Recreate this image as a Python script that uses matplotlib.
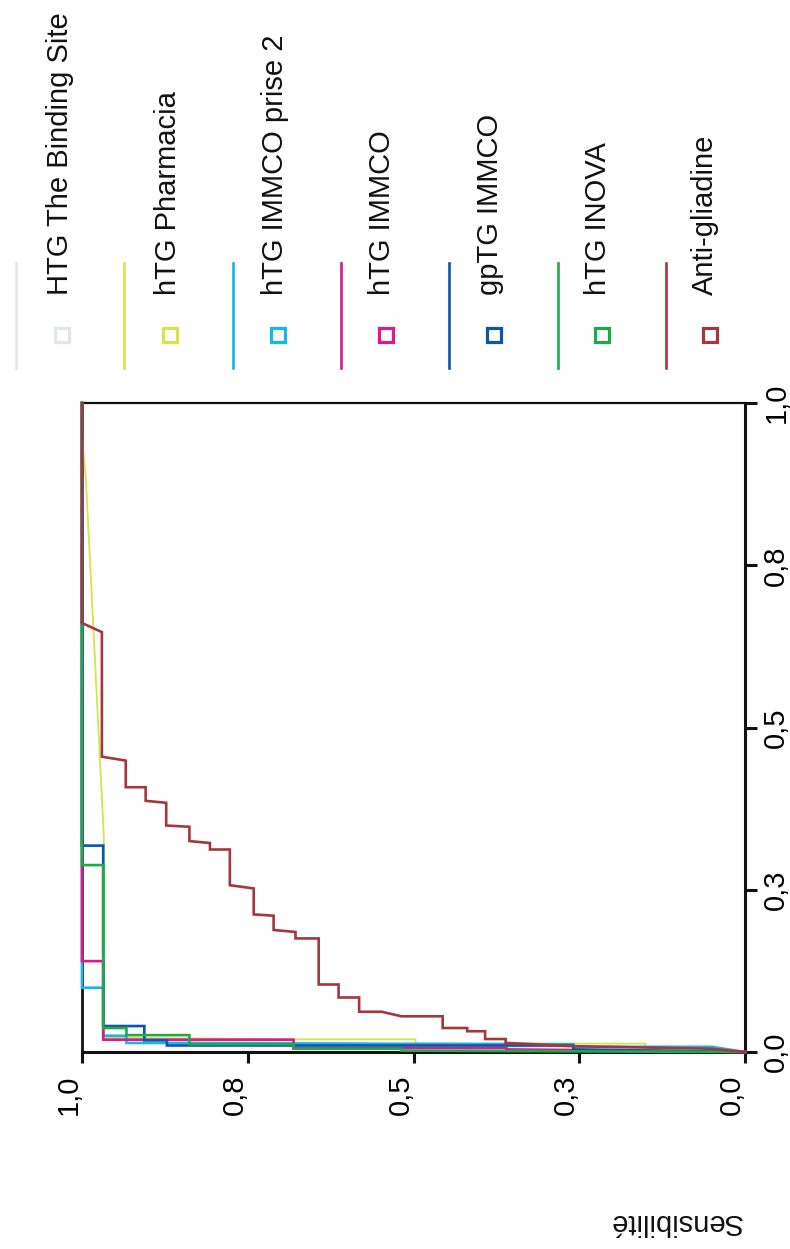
import matplotlib
matplotlib.use('Agg')
import matplotlib.pyplot as plt
from matplotlib.lines import Line2D
import matplotlib.transforms as mtransforms

plt.rcParams['font.family'] = ['Liberation Sans', 'DejaVu Sans']

# courbes ROC : (sensibilité, 1 - spécificité)
binding_site = [(1.0, 1.0), (1.0, 0.099), (0.968, 0.099), (0.968, 0.02), (0.0, 0.0)]
pharmacia = [(1.0, 1.0), (1.0, 0.95), (0.994, 0.88), (0.967, 0.33), (0.967, 0.022),
             (0.681, 0.0195), (0.497, 0.0195), (0.497, 0.013), (0.15, 0.013), (0.15, 0.004),
             (0.0, 0.0)]
immco_prise2 = [(1.0, 1.0), (1.0, 0.099), (0.968, 0.099), (0.968, 0.025), (0.933, 0.025),
                (0.933, 0.014), (0.286, 0.012), (0.259, 0.012), (0.259, 0.008), (0.05, 0.008),
                (0.0, 0.0)]
immco = [(1.0, 1.0), (1.0, 0.14), (0.968, 0.14), (0.968, 0.019), (0.681, 0.019),
         (0.681, 0.006), (0.36, 0.006), (0.36, 0.004), (0.0, 0.0)]
gptg_immco = [(1.0, 1.0), (1.0, 0.318), (0.968, 0.318), (0.968, 0.04), (0.906, 0.04),
              (0.906, 0.018), (0.872, 0.018), (0.872, 0.01), (0.259, 0.01), (0.259, 0.004),
              (0.0, 0.0)]
inova = [(1.0, 1.0), (1.0, 0.288), (0.968, 0.288), (0.968, 0.037), (0.933, 0.037),
         (0.933, 0.026), (0.838, 0.026), (0.838, 0.012), (0.681, 0.012), (0.681, 0.005),
         (0.518, 0.005), (0.518, 0.002), (0.0, 0.0)]
gliadine = [(1.0, 1.0), (1.0, 0.661), (0.970, 0.647), (0.970, 0.455), (0.934, 0.449),
            (0.934, 0.408), (0.904, 0.408), (0.904, 0.387), (0.873, 0.384), (0.873, 0.349),
            (0.838, 0.347), (0.838, 0.325), (0.807, 0.322), (0.807, 0.312), (0.777, 0.312),
            (0.777, 0.257), (0.741, 0.252), (0.741, 0.212), (0.711, 0.210), (0.711, 0.188),
            (0.678, 0.185), (0.678, 0.175), (0.643, 0.175), (0.643, 0.104), (0.613, 0.104),
            (0.613, 0.084), (0.582, 0.084), (0.582, 0.062), (0.548, 0.062), (0.518, 0.055),
            (0.456, 0.055), (0.456, 0.037), (0.419, 0.037), (0.419, 0.032), (0.392, 0.032),
            (0.392, 0.020), (0.361, 0.020), (0.361, 0.014), (0.26, 0.009), (0.05, 0.005),
            (0.0, 0.0)]

courbes = [binding_site, pharmacia, immco_prise2, immco, gptg_immco, inova, gliadine]
noms = ['HTG The Binding Site', 'hTG Pharmacia', 'hTG IMMCO prise 2', 'hTG IMMCO',
        'gpTG IMMCO', 'hTG INOVA', 'Anti-gliadine']
couleurs = ['#e3e6e8', '#d6e349', '#19b6ea', '#dc1a8c', '#0b55ad', '#1faa4a', '#a2383d']

ticks = [0.0, 0.25, 0.5, 0.75, 1.0]
tick_labels = ['0,0', '0,3', '0,5', '0,8', '1,0']

W, H = 790, 1249
fig = plt.figure(figsize=(W / 100, H / 100), dpi=100)
ax = fig.add_axes([82 / W, 1 - 1052 / H, 663 / W, 649 / H])

for pts, c in zip(courbes, couleurs):
    s = [p[0] for p in pts]
    f = [p[1] for p in pts]
    z = 1 if c == couleurs[0] else 3
    lw = 1.3 if c == couleurs[1] else 1.9
    ax.plot(s, f, color=c, lw=lw, zorder=z, clip_on=False, solid_joinstyle='miter')

# graphique tourné : sensibilité en bas (1 -> 0), 1-spécificité à droite
ax.set_xlim(1, 0)
ax.set_ylim(0, 1)
ax.yaxis.tick_right()
ax.set_xticks(ticks)
ax.set_xticklabels(tick_labels, rotation=90, fontsize=21)
ax.set_yticks(ticks)
ax.set_yticklabels(tick_labels, rotation=90, va='center', fontsize=21)
ax.tick_params(axis='x', length=8, width=2.2, pad=8, color='#111111')
ax.tick_params(axis='y', length=8.5, width=2.2, pad=4, color='#111111')
decal = mtransforms.ScaledTranslation(-0.13, 0, fig.dpi_scale_trans)
for lbl in ax.get_xticklabels():
    lbl.set_transform(lbl.get_transform() + decal)

for cote, lw in [('left', 2.0), ('bottom', 2.2), ('right', 2.2), ('top', 1.6)]:
    ax.spines[cote].set_linewidth(lw)
    ax.spines[cote].set_color('#111111')

# légende tournée
for i, (nom, c) in enumerate(zip(noms, couleurs)):
    xl = 16 + 108.3 * i
    fig.add_artist(Line2D([xl / W, xl / W], [1 - 263 / H, 1 - 368 / H],
                          transform=fig.transFigure, color=c, lw=1.9))
    xm = 62 + 108 * i
    fig.add_artist(Line2D([xm / W], [1 - 335 / H], transform=fig.transFigure,
                          marker='s', markersize=10, markerfacecolor='white',
                          markeredgecolor=c, markeredgewidth=2.3, linestyle='none'))
    fig.text((68 + 107.5 * i) / W, 1 - 295 / H, nom, rotation=90, rotation_mode='anchor',
             ha='left', va='baseline', fontsize=21, color='#111111')

fig.text(675 / W, 1 - 1222 / H, 'Sensibilité', rotation=180, ha='center', va='center',
         fontsize=21, color='#111111')

fig.savefig('out.png', dpi=100)
